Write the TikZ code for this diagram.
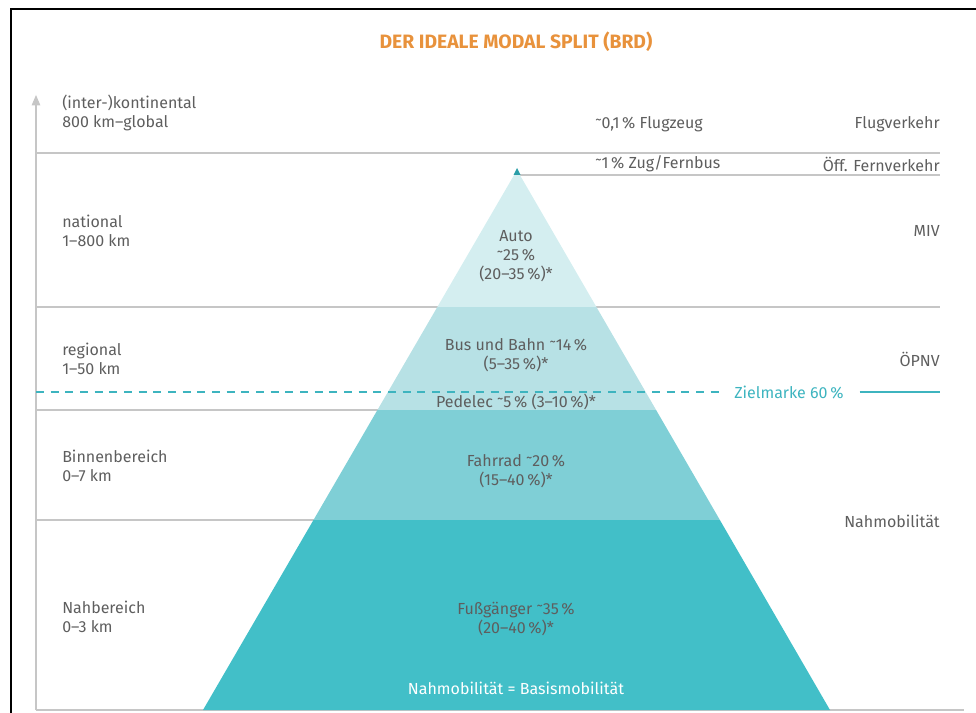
\documentclass[tikz,border=0pt]{standalone}
\usepackage{fontspec}
\setmainfont{Fira Sans}
\usetikzlibrary{arrows}
\definecolor{txtgray}{HTML}{5E5E5E}
\definecolor{rulegray}{HTML}{C6C6C6}
\definecolor{titleorange}{HTML}{E8923C}
\definecolor{zielteal}{HTML}{3DB4BF}
\definecolor{apexteal}{HTML}{2A9EA8}
\definecolor{autoband}{HTML}{D4EEF0}
\definecolor{oepnvband}{HTML}{B7E1E5}
\definecolor{radband}{HTML}{7FCFD6}
\definecolor{fussband}{HTML}{42BFC8}
\newcommand{\ca}{\raisebox{-0.35ex}{\char"02DC\relax}}

\begin{document}
\begin{tikzpicture}[x=0.75pt,y=-0.75pt,line cap=butt,>=triangle 45,
    lab/.style={inner sep=0pt, text=txtgray, font=\fontsize{12}{14.5}\selectfont},
    leftlab/.style={lab, anchor=west, align=left},
    rightlab/.style={lab, anchor=east, align=right},
    midlab/.style={lab, align=center},
    rule/.style={draw=rulegray, line width=1.3pt}]
    \useasboundingbox (0,0) rectangle (976,713);

    % frame and title
    \draw [line width=1.6pt] (11,713) -- (11,9) -- (976,9);
    \node[inner sep=0pt, text=titleorange, font=\bfseries\fontsize{14.5}{16}\selectfont] (title) at (516,42) {DER IDEALE MODAL SPLIT (BRD)};

    \coordinate (apex) at (517,170);
    \coordinate (bl) at (203,710);
    \coordinate (br) at (830,710);

    % rules
    \draw [rule] (36,153) -- (940,153);
    \draw [rule] (517,175) -- (940,175);
    \draw [rule] (36,307) -- (940,307);
    \draw [rule] (36,410) -- (600,410);
    \draw [rule] (36,520) -- (650,520);
    \draw [rule] (36,710) -- (964,710);
    \draw [rule, line width=0.8pt, ->] (36,710) -- (36,95);

    % pyramid
    \begin{scope}
        \clip (apex) -- (bl) -- (br) -- cycle;
        \fill [autoband] (0,165) rectangle (976,307);
        \fill [oepnvband] (0,307) rectangle (976,410);
        \fill [radband] (0,410) rectangle (976,520);
        \fill [fussband] (0,520) rectangle (976,711);
    \end{scope}
    \fill [apexteal] (517,168) -- (513.5,175) -- (520.5,175) -- cycle;

    % target line
    \node[lab, text=zielteal, anchor=west] (ziel) at (734,393) {Zielmarke 60\,\%};
    \draw [zielteal, line width=1pt, dash pattern=on 6pt off 5pt] (36,392) -- ([xshift=-8pt]ziel.west |- 0,392);
    \draw [zielteal, line width=1pt] ([xshift=12pt]ziel.east |- 0,392) -- (940,392);

    % distances
    \node[leftlab] (kont) at (62,113) {(inter-)kontinental\\800 km–global};
    \node[leftlab] (nat) at (62,231) {national\\1–800 km};
    \node[leftlab] (reg) at (62,359) {regional\\1–50 km};
    \node[leftlab] (binnen) at (62,466) {Binnenbereich\\0–7 km};
    \node[leftlab] (nah) at (62,617) {Nahbereich\\0–3 km};

    % sectors
    \node[rightlab] (flug) at (940,124) {Flugverkehr};
    \node[rightlab] (fern) at (940,164) {Öff. Fernverkehr};
    \node[rightlab] (miv) at (940,231) {MIV};
    \node[rightlab] (oepnv) at (940,359) {ÖPNV};
    \node[rightlab] (nahmob) at (940,521) {Nahmobilität};

    % shares
    \node[lab, anchor=west] (flugzeug) at (595,124) {\ca 0,1\,\% Flugzeug};
    \node[lab, anchor=west] (zug) at (595,164) {\ca 1\,\% Zug/Fernbus};
    \node[midlab] (auto) at (516,256) {Auto\\\ca 25\,\%\\(20–35\,\%)*};
    \node[midlab] (bus) at (516,355) {Bus und Bahn \ca 14\,\%\\(5–35\,\%)*};
    \node[midlab] (pedelec) at (516,402) {Pedelec \ca 5\,\% (3–10\,\%)*};
    \node[midlab] (rad) at (516,471) {Fahrrad \ca 20\,\%\\(15–40\,\%)*};
    \node[midlab] (fuss) at (516,619) {Fußgänger \ca 35\,\%\\(20–40\,\%)*};
    \node[lab, text=white] (basis) at (516,688) {Nahmobilität = Basismobilität};
\end{tikzpicture}
\end{document}
